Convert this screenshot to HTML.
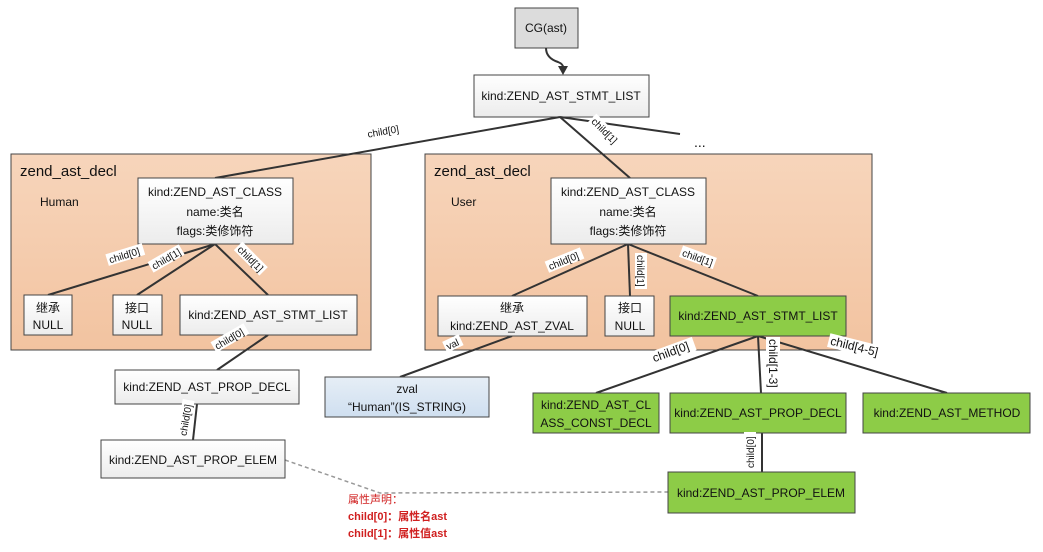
<!DOCTYPE html>
<html><head><meta charset="utf-8"><style>
body{margin:0;background:#fff}
svg text{font-family:"Liberation Sans","Noto Sans CJK SC",sans-serif;}
</style></head><body>
<svg width="1043" height="547" viewBox="0 0 1043 547" xmlns="http://www.w3.org/2000/svg">
<defs>
<linearGradient id="w" x1="0" y1="0" x2="0" y2="1"><stop offset="0" stop-color="#fff"/><stop offset="1" stop-color="#ececec"/></linearGradient>
<linearGradient id="o" x1="0" y1="0" x2="0" y2="1"><stop offset="0" stop-color="#f7d5bb"/><stop offset="1" stop-color="#f2c3a0"/></linearGradient>
<linearGradient id="b" x1="0" y1="0" x2="0" y2="1"><stop offset="0" stop-color="#e6eef6"/><stop offset="1" stop-color="#cfdff0"/></linearGradient>
</defs>
<g stroke="#444" stroke-width="1">
<rect x="515" y="8" width="63" height="40" fill="#dcdcdc"/>
<rect x="474" y="75" width="175" height="42" fill="url(#w)"/>
<rect x="11" y="154" width="360" height="196" fill="url(#o)"/>
<rect x="425" y="154" width="447" height="196" fill="url(#o)"/>
</g>
<path d="M546 48 Q546 58 558 62 Q563 64 563 67" fill="none" stroke="#333" stroke-width="2"/>
<polygon points="563,75 558,66 568,66" fill="#333"/>
<g stroke="#333" stroke-width="2" fill="none">
<line x1="560" y1="117" x2="215" y2="178"/>
<line x1="560" y1="117" x2="630" y2="178"/>
<line x1="560" y1="117" x2="680" y2="134"/>
<line x1="215" y1="244" x2="48" y2="295"/>
<line x1="215" y1="244" x2="137" y2="295"/>
<line x1="215" y1="244" x2="268" y2="295"/>
<line x1="268" y1="335" x2="217" y2="370"/>
<line x1="197" y1="404" x2="193" y2="440"/>
<line x1="628" y1="244" x2="512" y2="296"/>
<line x1="628" y1="244" x2="630" y2="296"/>
<line x1="628" y1="244" x2="758" y2="296"/>
<line x1="512" y1="336" x2="400" y2="377"/>
<line x1="758" y1="336" x2="596" y2="393"/>
<line x1="758" y1="336" x2="761" y2="393"/>
<line x1="758" y1="336" x2="947" y2="393"/>
<line x1="762" y1="433" x2="762" y2="472"/>
</g>
<polyline points="285,460 380,493 668,492" fill="none" stroke="#999" stroke-width="1.5" stroke-dasharray="4,3"/>
<g stroke="#444" stroke-width="1">
<rect x="138" y="178" width="155" height="66" fill="url(#w)"/>
<rect x="24" y="295" width="48" height="40" fill="url(#w)"/>
<rect x="113" y="295" width="49" height="40" fill="url(#w)"/>
<rect x="180" y="295" width="177" height="40" fill="url(#w)"/>
<rect x="115" y="370" width="184" height="34" fill="url(#w)"/>
<rect x="101" y="440" width="184" height="38" fill="url(#w)"/>
<rect x="551" y="178" width="155" height="66" fill="url(#w)"/>
<rect x="438" y="296" width="149" height="40" fill="url(#w)"/>
<rect x="605" y="296" width="49" height="40" fill="url(#w)"/>
<rect x="670" y="296" width="176" height="40" fill="#8dcc47"/>
<rect x="325" y="377" width="164" height="40" fill="url(#b)"/>
<rect x="533" y="393" width="126" height="40" fill="#8dcc47"/>
<rect x="670" y="393" width="176" height="40" fill="#8dcc47"/>
<rect x="863" y="393" width="167" height="40" fill="#8dcc47"/>
<rect x="668" y="472" width="187" height="41" fill="#8dcc47"/>
</g>
<g font-size="12" fill="#111" text-anchor="middle">
<text x="546" y="32">CG(ast)</text>
<text x="561" y="100">kind:ZEND_AST_STMT_LIST</text>
<text x="215" y="196">kind:ZEND_AST_CLASS</text>
<text x="215" y="216">name:类名</text>
<text x="215" y="235">flags:类修饰符</text>
<text x="48" y="312">继承</text><text x="48" y="329">NULL</text>
<text x="137" y="312">接口</text><text x="137" y="329">NULL</text>
<text x="268" y="319">kind:ZEND_AST_STMT_LIST</text>
<text x="207" y="391">kind:ZEND_AST_PROP_DECL</text>
<text x="193" y="464">kind:ZEND_AST_PROP_ELEM</text>
<text x="628" y="196">kind:ZEND_AST_CLASS</text>
<text x="628" y="216">name:类名</text>
<text x="628" y="235">flags:类修饰符</text>
<text x="512" y="312">继承</text><text x="512" y="330">kind:ZEND_AST_ZVAL</text>
<text x="630" y="312">接口</text><text x="630" y="330">NULL</text>
<text x="758" y="320">kind:ZEND_AST_STMT_LIST</text>
<text x="407" y="393">zval</text><text x="407" y="411">“Human”(IS_STRING)</text>
<text x="596" y="409">kind:ZEND_AST_CL</text><text x="596" y="427">ASS_CONST_DECL</text>
<text x="758" y="417">kind:ZEND_AST_PROP_DECL</text>
<text x="947" y="417">kind:ZEND_AST_METHOD</text>
<text x="761" y="497">kind:ZEND_AST_PROP_ELEM</text>
</g>
<g font-size="15" fill="#111">
<text x="20" y="176">zend_ast_decl</text>
<text x="434" y="176">zend_ast_decl</text>
</g>
<g font-size="12" fill="#111">
<text x="40" y="206">Human</text>
<text x="451" y="206">User</text>
<text x="694" y="147" font-size="14">...</text>
</g>
<g font-size="10" fill="#111">
<g transform="translate(366,137) rotate(-10)"><rect x="0" y="-9" width="40" height="12" fill="#fff"/><text x="2" y="1">child[0]</text></g>
<g transform="translate(590,120) rotate(45)"><rect x="0" y="-9" width="36" height="12" fill="#fff"/><text x="2" y="1">child[1]</text></g>
<g transform="translate(108,263) rotate(-17)"><rect x="0" y="-9" width="38" height="12" fill="#fff"/><text x="2" y="1">child[0]</text></g>
<g transform="translate(152,270) rotate(-30)"><rect x="0" y="-9" width="36" height="12" fill="#fff"/><text x="2" y="1">child[1]</text></g>
<g transform="translate(236,248) rotate(45)"><rect x="0" y="-9" width="36" height="12" fill="#fff"/><text x="2" y="1">child[1]</text></g>
<g transform="translate(215,350) rotate(-30)"><rect x="0" y="-9" width="38" height="12" fill="#fff"/><text x="2" y="1">child[0]</text></g>
<g transform="translate(185,438) rotate(-80)"><rect x="0" y="-9" width="38" height="12" fill="#fff"/><text x="2" y="1">child[0]</text></g>
<g transform="translate(548,270) rotate(-22)"><rect x="0" y="-9" width="38" height="12" fill="#fff"/><text x="2" y="1">child[0]</text></g>
<g transform="translate(638,253) rotate(90)"><rect x="0" y="-9" width="36" height="12" fill="#fff"/><text x="2" y="1">child[1]</text></g>
<g transform="translate(680,254) rotate(20)"><rect x="0" y="-9" width="36" height="12" fill="#fff"/><text x="2" y="1">child[1]</text></g>
<g transform="translate(446,350) rotate(-25)"><rect x="0" y="-9" width="18" height="12" fill="#fff"/><text x="2" y="1">val</text></g>
<g transform="translate(652,362) rotate(-20)" font-size="12"><rect x="0" y="-10" width="46" height="14" fill="#fff"/><text x="2" y="1">child[0]</text></g>
<g transform="translate(770,337) rotate(90)" font-size="12"><rect x="0" y="-10" width="50" height="14" fill="#fff"/><text x="2" y="1">child[1-3]</text></g>
<g transform="translate(828,343) rotate(14)" font-size="12"><rect x="0" y="-10" width="56" height="14" fill="#fff"/><text x="2" y="1">child[4-5]</text></g>
<g transform="translate(753,470) rotate(-90)"><rect x="0" y="-9" width="38" height="12" fill="#fff"/><text x="2" y="1">child[0]</text></g>
</g>
<g font-size="11" fill="#d02020" font-weight="bold">
<text x="348" y="503" font-weight="normal">属性声明：</text>
<text x="348" y="520">child[0]：属性名ast</text>
<text x="348" y="537">child[1]：属性值ast</text>
</g>
</svg>
</body></html>
